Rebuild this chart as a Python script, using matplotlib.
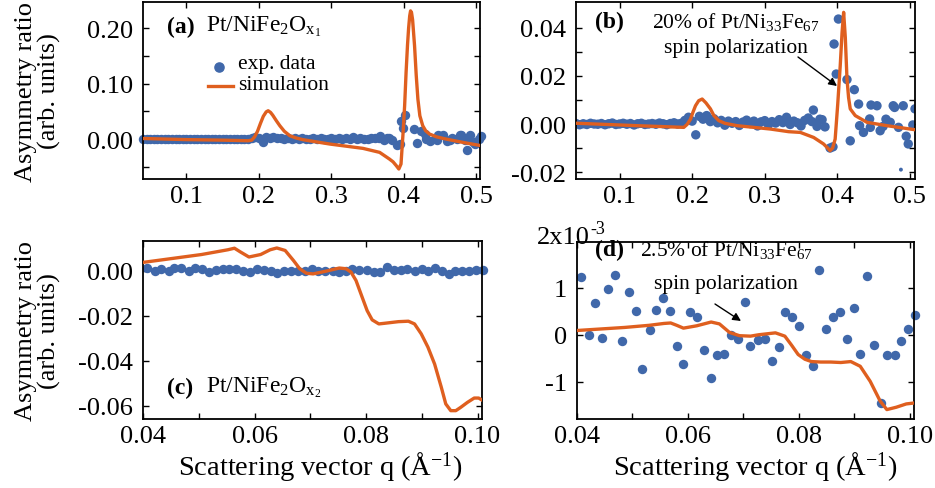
import matplotlib
matplotlib.use('Agg')
import matplotlib.pyplot as plt
from matplotlib.lines import Line2D
from matplotlib.patches import FancyArrowPatch
import numpy as np

plt.rcParams['font.family'] = ['Liberation Serif', 'DejaVu Serif']
plt.rcParams['mathtext.fontset'] = 'custom'
plt.rcParams['mathtext.rm'] = 'Liberation Serif'
plt.rcParams['mathtext.it'] = 'Liberation Serif:italic'
plt.rcParams['mathtext.bf'] = 'Liberation Serif:bold'
plt.rcParams['axes.unicode_minus'] = False

W, H = 935, 489
BLUE = '#4068AA'
ORANGE = '#DF5F1F'

# ---------------- data: panels (a) and (b), Pt/NiFe2Ox1 ----------------
exp_ab_q = [0.040, 0.045, 0.050, 0.055, 0.060, 0.065, 0.070, 0.075, 0.080, 0.085,
            0.090, 0.095, 0.100, 0.105, 0.110, 0.115, 0.120, 0.125, 0.130, 0.135,
            0.140, 0.145, 0.150, 0.155, 0.160, 0.165, 0.170, 0.175, 0.180, 0.185,
            0.190, 0.195, 0.200, 0.205, 0.210, 0.215, 0.220, 0.225, 0.230, 0.235,
            0.240, 0.245, 0.250, 0.255, 0.260, 0.265, 0.270, 0.275, 0.280, 0.285,
            0.290, 0.295, 0.300, 0.305, 0.310, 0.315, 0.320, 0.325, 0.330, 0.335,
            0.340, 0.345, 0.350, 0.355, 0.360, 0.365, 0.367, 0.372, 0.376, 0.379,
            0.383, 0.390, 0.394, 0.3955, 0.3985, 0.4015, 0.4133, 0.4178, 0.4234, 0.4293,
            0.4307, 0.4360, 0.4445, 0.4454, 0.4464, 0.4546, 0.4590, 0.4630, 0.4670, 0.4729,
            0.4770, 0.4789, 0.4843, 0.4876, 0.4908, 0.4949, 0.4977, 0.5040, 0.5070]
exp_ab_v = [0.0002, -0.0003, 0.0001, -0.0002, 0.0003, 0.0000, -0.0001, 0.0002, -0.0003, 0.0001,
            0.0004, -0.0002, 0.0000, 0.0003, -0.0001, 0.0002, -0.0004, 0.0001, 0.0003, -0.0002,
            0.0000, 0.0002, -0.0001, 0.0004, 0.0001, -0.0003, 0.0002, 0.0005, 0.0000, 0.0003,
            0.0015, 0.0028, 0.0012, -0.0045, 0.0032, 0.0020, 0.0035, 0.0010, 0.0022, 0.0005,
            0.0015, -0.0005, 0.0012, 0.0003, 0.0010, -0.0006, 0.0008, 0.0016, 0.0002, 0.0012,
            -0.0008, 0.0009, 0.0014, -0.0003, 0.0010, 0.0004, 0.0018, 0.0006, 0.0028, -0.0002,
            0.0012, 0.0005, -0.0008, 0.0015, 0.0025, 0.0010, 0.0058, -0.0010, 0.0020, 0.0018,
            -0.0012, -0.0100, -0.0095, 0.0333, 0.0208, 0.0437, 0.0185, -0.0070, 0.0143, 0.0083,
            -0.0007, -0.0035, 0.0021, -0.0014, 0.0079, 0.0076, -0.0028, -0.0010, 0.0020, 0.0007,
            0.0076, 0.0069, -0.0014, -0.0190, 0.0076, -0.0051, -0.0083, -0.0004, 0.0063]

sim_a_q = [0.040, 0.100, 0.150, 0.185, 0.190, 0.194, 0.198, 0.202, 0.206, 0.2100,
           0.2127, 0.2160, 0.219, 0.2240, 0.2288, 0.2350, 0.2426, 0.2510, 0.261, 0.2977,
           0.3435, 0.3665, 0.380, 0.3850, 0.3895, 0.393, 0.396, 0.3986, 0.4010, 0.403,
           0.4050, 0.4065, 0.4080, 0.4092, 0.4105, 0.412, 0.4147, 0.4170, 0.4193, 0.4220,
           0.426, 0.4300, 0.4354, 0.4450, 0.458, 0.4813, 0.5066]
sim_a_v = [0.001, -0.001, -0.002, -0.003, -0.002, 0.004, 0.014, 0.028, 0.041, 0.049,
           0.051, 0.048, 0.043, 0.033, 0.024, 0.014, 0.006, 0.002, -0.0012, -0.009,
           -0.0168, -0.024, -0.036, -0.041, -0.048, -0.054, -0.045, 0.006, 0.060, 0.120,
           0.170, 0.200, 0.222, 0.231, 0.228, 0.215, 0.168, 0.115, 0.072, 0.042,
           0.024, 0.015, 0.009, 0.004, 0.000, -0.006, -0.012]

sim_b_q = [0.0418, 0.1244, 0.1885, 0.1930, 0.1977, 0.2010, 0.2046, 0.2090, 0.2138, 0.2190,
           0.2252, 0.2300, 0.2367, 0.2450, 0.262, 0.3078, 0.333, 0.349, 0.3674, 0.381,
           0.3860, 0.390, 0.3935, 0.397, 0.4005, 0.404, 0.4065, 0.4087, 0.4110, 0.4133,
           0.4155, 0.4178, 0.4247, 0.4408, 0.4684, 0.5073]
sim_b_v = [0.0003, -0.0007, -0.0014, -0.0002, 0.0020, 0.0048, 0.0076, 0.0097, 0.0104, 0.0088,
           0.0063, 0.0035, 0.0014, 0.0003, -0.0007, -0.0021, -0.0032, -0.0035, -0.0056, -0.0083,
           -0.0098, -0.0111, -0.0100, -0.0063, 0.0080, 0.0243, 0.0380, 0.0465, 0.0360, 0.0188,
           0.0110, 0.0063, 0.0035, 0.0007, -0.0007, -0.0024]

# ---------------- data: panels (c) and (d), Pt/NiFe2Ox2 ----------------
exp_cd_q = [0.0408, 0.0421, 0.0433, 0.0446, 0.0456, 0.0469, 0.0482, 0.0494, 0.0506, 0.0518,
            0.0531, 0.0543, 0.0555, 0.0567, 0.0580, 0.0592, 0.0604, 0.0617, 0.0629, 0.0641,
            0.0653, 0.0666, 0.0678, 0.0690, 0.0703, 0.0713, 0.0727, 0.0740, 0.0752, 0.0764,
            0.0775, 0.0788, 0.0801, 0.0814, 0.0825, 0.0837, 0.0850, 0.0862, 0.0874, 0.0887,
            0.0900, 0.0911, 0.0923, 0.0936, 0.0949, 0.0960, 0.0973, 0.0985, 0.0998, 0.1009]
# in units of 1e-3
exp_cd_milli = [1.22, 0.00, 0.68, -0.06, 0.98, 1.26, -0.13, 0.90, 0.51, -0.73,
                0.11, 0.53, 0.79, 0.51, -0.23, -0.63, 0.48, 0.38, -0.33, -0.91,
                -0.43, -0.41, 0.00, -0.09, 0.70, -0.23, -0.11, -0.09, -0.55, -0.26,
                0.49, 0.37, 0.18, -0.44, -0.67, 1.38, 0.12, 0.37, 0.48, -0.09,
                0.57, -0.41, 1.25, -0.21, -1.44, -0.42, -0.42, -0.13, 0.13, 0.42]

sim_c_q = [0.0400, 0.0505, 0.0552, 0.0564, 0.0575, 0.0590, 0.0611, 0.0628, 0.0640, 0.0655,
           0.0670, 0.0681, 0.0693, 0.0705, 0.0728, 0.0752, 0.0764, 0.0773, 0.0782, 0.0793,
           0.0802, 0.0811, 0.0823, 0.0834, 0.0858, 0.0876, 0.0887, 0.0899, 0.0911, 0.0923,
           0.0935, 0.0943, 0.0952, 0.0961, 0.0970, 0.0982, 0.0994, 0.1002, 0.1008]
sim_c_v = [0.0036, 0.0071, 0.0092, 0.0099, 0.0082, 0.0060, 0.0071, 0.0092, 0.0100, 0.0089,
           0.0044, 0.0008, -0.0012, -0.0015, -0.0003, 0.0011, 0.0008, -0.0007, -0.0044, -0.0118,
           -0.0178, -0.0219, -0.0237, -0.0234, -0.0227, -0.0225, -0.0237, -0.0281, -0.0340, -0.0415,
           -0.0518, -0.0592, -0.0622, -0.0622, -0.0607, -0.0585, -0.0566, -0.0566, -0.0575]

sim_d_q = [0.0400, 0.0486, 0.0530, 0.0557, 0.0569, 0.0580, 0.0592, 0.0616, 0.0642, 0.0657,
           0.0675, 0.0693, 0.0713, 0.0728, 0.0758, 0.0775, 0.0787, 0.0799, 0.0811, 0.0823,
           0.0840, 0.0858, 0.0876, 0.0894, 0.0911, 0.0929, 0.0947, 0.0959, 0.0976, 0.0994, 0.1008]
sim_d_milli = [0.09, 0.155, 0.20, 0.24, 0.25, 0.20, 0.14, 0.19, 0.27, 0.23,
               0.05, -0.02, -0.03, 0.00, 0.04, -0.03, -0.22, -0.42, -0.52, -0.57,
               -0.58, -0.58, -0.59, -0.57, -0.67, -0.99, -1.41, -1.59, -1.54, -1.47, -1.45]

xticks_ab = [0.1, 0.2, 0.3, 0.4, 0.5]
xticks_cd = [0.04, 0.06, 0.08, 0.10]

# ---------------- figure ----------------
fig = plt.figure(figsize=(W / 100, H / 100), dpi=100)


def rect(l, t, r, b):
    return [l / W, 1 - b / H, (r - l) / W, (b - t) / H]


def fp(x, y):
    return (x / W, 1 - y / H)


def style(ax):
    ax.tick_params(which='both', direction='in', top=True, right=True,
                   length=4, width=1, labelsize=19)
    ax.tick_params(axis='y', pad=7)
    ax.tick_params(axis='x', pad=4)
    for s in ax.spines.values():
        s.set_linewidth(1.3)


MS = 46
LW = 2.4

ax_a = fig.add_axes(rect(143, 3, 480, 180))
ax_b = fig.add_axes(rect(576, 3, 915, 180))
ax_c = fig.add_axes(rect(143, 242, 482, 420))
ax_d = fig.add_axes(rect(577, 243, 914, 420))

# (a)
ax_a.scatter(exp_ab_q, exp_ab_v, s=MS, color=BLUE, lw=0, zorder=2, clip_on=False)
ax_a.plot(sim_a_q, sim_a_v, color=ORANGE, lw=LW, zorder=3, solid_joinstyle='round')
ax_a.set_xlim(0.04, 0.505)
ax_a.set_ylim(-0.072, 0.247)
ax_a.set_xticks(xticks_ab)
ax_a.set_xticklabels(['0.1', '0.2', '0.3', '0.4', '0.5'])
ax_a.set_yticks([0.0, 0.1, 0.2])
ax_a.set_yticklabels(['0.00', '0.10', '0.20'])
ax_a.set_yticks([-0.05, 0.05, 0.15], minor=True)
style(ax_a)

# (b)
sizes_b = [MS if v > -0.015 else 8 for v in exp_ab_v]
ax_b.scatter(exp_ab_q, exp_ab_v, s=sizes_b, color=BLUE, lw=0, zorder=2)
ax_b.plot(sim_b_q, sim_b_v, color=ORANGE, lw=LW, zorder=3, solid_joinstyle='round')
ax_b.set_xlim(0.04, 0.507)
ax_b.set_ylim(-0.0229, 0.0508)
ax_b.set_xticks(xticks_ab)
ax_b.set_xticklabels(['0.1', '0.2', '0.3', '0.4', '0.5'])
ax_b.set_yticks([-0.02, 0.0, 0.02, 0.04])
ax_b.set_yticklabels(['-0.02', '0.00', '0.02', '0.04'])
ax_b.set_yticks([-0.01, 0.01, 0.03], minor=True)
style(ax_b)

# (c)
ax_c.scatter(exp_cd_q, np.array(exp_cd_milli) * 1e-3, s=MS, color=BLUE, lw=0, zorder=2, clip_on=False)
ax_c.plot(sim_c_q, sim_c_v, color=ORANGE, lw=LW, zorder=3, solid_joinstyle='round')
ax_c.set_xlim(0.04, 0.1008)
ax_c.set_ylim(-0.0659, 0.0131)
ax_c.set_xticks(xticks_cd)
ax_c.set_xticklabels(['0.04', '0.06', '0.08', '0.10'])
ax_c.set_xticks([0.05, 0.07, 0.09], minor=True)
ax_c.set_yticks([-0.06, -0.04, -0.02, 0.0])
ax_c.set_yticklabels(['-0.06', '-0.04', '-0.02', '0.00'])
style(ax_c)

# (d)
ax_d.scatter(exp_cd_q, exp_cd_milli, s=MS, color=BLUE, lw=0, zorder=2, clip_on=False)
ax_d.plot(sim_d_q, sim_d_milli, color=ORANGE, lw=LW, zorder=3, solid_joinstyle='round')
ax_d.set_xlim(0.04, 0.1008)
ax_d.set_ylim(-1.79, 1.97)
ax_d.set_xticks(xticks_cd)
ax_d.set_xticklabels(['0.04', '0.06', '0.08', '0.10'])
ax_d.set_xticks([0.05, 0.07, 0.09], minor=True)
ax_d.set_yticks([-1, 0, 1])
ax_d.set_yticklabels(['-1', '0', '1'])
style(ax_d)

# ---------------- texts ----------------
FS_PANEL = 17
FS_NOTE = 15.5

fig.text(*fp(167, 27), '(a)', fontsize=FS_PANEL, fontweight='bold', ha='left', va='center')
fig.text(*fp(206, 27), r'Pt/NiFe$_2$O$_{\mathrm{x}_1}$', fontsize=FS_PANEL, ha='left', va='center')
fig.text(*fp(167, 388), '(c)', fontsize=FS_PANEL, fontweight='bold', ha='left', va='center')
fig.text(*fp(206, 388), r'Pt/NiFe$_2$O$_{\mathrm{x}_2}$', fontsize=FS_PANEL, ha='left', va='center')

# legend in (a)
fig.add_artist(Line2D([219 / W], [1 - 68 / H], marker='o', ms=6.6, color=BLUE, lw=0,
                      transform=fig.transFigure))
fig.add_artist(Line2D([208 / W, 233 / W], [1 - 87 / H, 1 - 87 / H], color=ORANGE, lw=LW,
                      transform=fig.transFigure))
fig.text(*fp(238, 65), 'exp. data', fontsize=FS_NOTE, ha='left', va='center')
fig.text(*fp(238, 86), 'simulation', fontsize=FS_NOTE, ha='left', va='center')

# (b)
fig.text(*fp(595, 22), '(b)', fontsize=FS_PANEL, fontweight='bold', ha='left', va='center')
fig.text(*fp(736, 22), r'20% of Pt/Ni$_{33}$Fe$_{67}$', fontsize=FS_NOTE, ha='center', va='center')
fig.text(*fp(736, 48), 'spin polarization', fontsize=FS_NOTE, ha='center', va='center')
fig.add_artist(FancyArrowPatch(
    fp(798, 58), fp(837, 87), transform=fig.transFigure, arrowstyle='-|>',
    mutation_scale=12, color='black', lw=1, shrinkA=0, shrinkB=0))

# (d)
fig.text(*fp(595, 250), '(d)', fontsize=FS_PANEL, fontweight='bold', ha='left', va='center')
fig.text(*fp(726, 250), r'2.5% of Pt/Ni$_{33}$Fe$_{67}$', fontsize=FS_NOTE, ha='center', va='center')
fig.text(*fp(726, 285), 'spin polarization', fontsize=FS_NOTE, ha='center', va='center')
fig.add_artist(FancyArrowPatch(
    fp(715, 305), fp(741, 322), transform=fig.transFigure, arrowstyle='-|>',
    mutation_scale=12, color='black', lw=1, shrinkA=0, shrinkB=0))
fig.text(*fp(590, 238), '2x10', fontsize=19, ha='right', va='center')
fig.text(*fp(590, 229), '-3', fontsize=13, ha='left', va='center')

# axis labels
for yc in (91.5, 331):
    fig.text(*fp(38, yc), 'Asymmetry ratio\n(arb. units)', fontsize=19, rotation=90,
             ha='center', va='center', multialignment='center', linespacing=1.0)
for xc in (320, 755):
    fig.text(*fp(xc, 467), r'Scattering vector q (Å$^{-1}$)', fontsize=20.5, ha='center', va='center')

fig.savefig('out.png', dpi=100)
